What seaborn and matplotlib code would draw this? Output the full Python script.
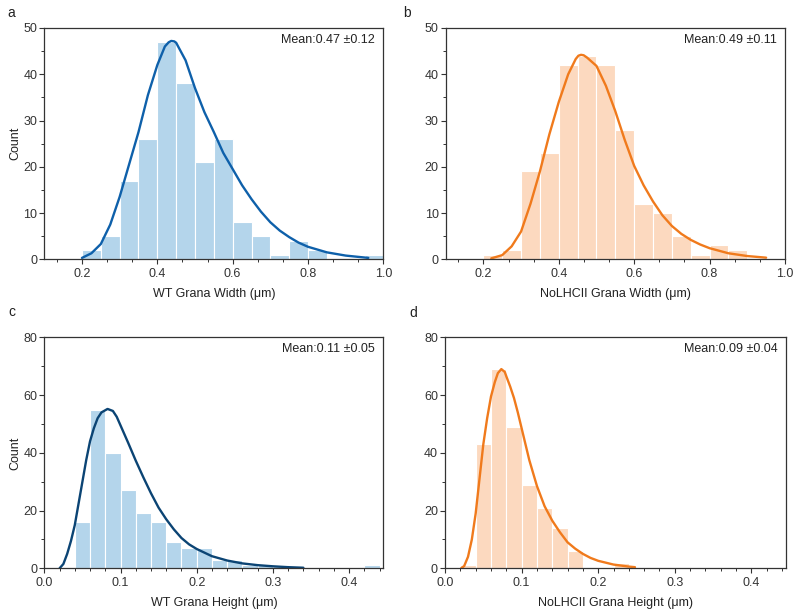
import numpy as np
import matplotlib
matplotlib.use("Agg")
import matplotlib.pyplot as plt
from matplotlib.ticker import MultipleLocator, FormatStrFormatter
import seaborn as sns

# ── Histogram counts ────────────────────────────────────────────────
a_edges  = [0.20, 0.25, 0.30, 0.35, 0.40, 0.45, 0.50, 0.55, 0.60, 0.65, 0.70, 0.75, 0.80, 0.85, 0.90, 0.95, 1.00]
a_counts = [2, 5, 17, 26, 47, 38, 21, 26, 8, 5, 1, 4, 2, 0, 0, 1]

b_edges  = [0.20, 0.25, 0.30, 0.35, 0.40, 0.45, 0.50, 0.55, 0.60, 0.65, 0.70, 0.75, 0.80, 0.85, 0.90]
b_counts = [1, 2, 19, 23, 42, 44, 42, 28, 12, 10, 5, 1, 3, 2]

c_edges  = [0.04, 0.06, 0.08, 0.10, 0.12, 0.14, 0.16, 0.18, 0.20, 0.22, 0.24,
            0.26, 0.28, 0.30, 0.32, 0.34, 0.36, 0.38, 0.40, 0.42, 0.44]
c_counts = [16, 55, 40, 27, 19, 16, 9, 7, 7, 3, 3, 1, 1, 1, 0, 0, 0, 0, 0, 1]

d_edges  = [0.02, 0.04, 0.06, 0.08, 0.10, 0.12, 0.14, 0.16, 0.18, 0.20, 0.22, 0.24]
d_counts = [1, 43, 69, 49, 29, 21, 14, 6, 0, 0, 2]

# ── Fitted curves ───────────────────────────────────────────────────
a_fit_x = [0.20, 0.225, 0.25, 0.275, 0.30, 0.325, 0.35, 0.375, 0.40, 0.42, 0.43, 0.437, 0.445,
           0.45, 0.475, 0.50, 0.525, 0.55, 0.575, 0.60, 0.625, 0.65, 0.675, 0.70, 0.725,
           0.75, 0.775, 0.80, 0.85, 0.90, 0.96]
a_fit_y = [0.3, 1.3, 3.3, 7.5, 13.5, 20.5, 27.5, 35.5, 42.0, 46.0, 46.9, 47.2, 47.1,
           46.8, 43.0, 37.0, 31.8, 27.5, 23.0, 19.5, 16.0, 13.0, 10.3, 8.0, 6.2,
           4.8, 3.6, 2.7, 1.5, 0.8, 0.3]

b_fit_x = [0.221, 0.25, 0.275, 0.30, 0.325, 0.35, 0.375, 0.40, 0.425, 0.445, 0.452, 0.459, 0.466,
           0.475, 0.50, 0.525, 0.55, 0.575, 0.60, 0.625, 0.65, 0.675, 0.70, 0.725, 0.75,
           0.775, 0.80, 0.85, 0.90, 0.95]
b_fit_y = [0.2, 0.9, 2.8, 6.0, 12.0, 19.0, 27.0, 34.0, 40.0, 43.3, 44.0, 44.2, 44.1,
           43.6, 41.8, 37.5, 32.0, 25.8, 20.2, 16.0, 12.5, 9.5, 7.2, 5.5, 4.2,
           3.2, 2.4, 1.3, 0.7, 0.35]

c_fit_x = [0.020, 0.025, 0.03, 0.035, 0.04, 0.045, 0.05, 0.055, 0.06, 0.065, 0.07, 0.075, 0.083,
           0.09, 0.095, 0.10, 0.11, 0.12, 0.13, 0.14, 0.15, 0.16, 0.17, 0.18, 0.19, 0.20,
           0.22, 0.24, 0.26, 0.28, 0.30, 0.32, 0.34]
c_fit_y = [0.0, 1.5, 5.0, 9.5, 15.0, 22.5, 30.0, 37.5, 44.0, 48.5, 52.0, 54.0, 55.2,
           54.5, 52.5, 49.5, 43.5, 37.3, 31.5, 26.0, 21.0, 17.0, 13.5, 10.5, 8.3, 6.7,
           4.2, 2.7, 1.7, 1.1, 0.7, 0.4, 0.2]

d_fit_x = [0.021, 0.025, 0.03, 0.035, 0.04, 0.045, 0.05, 0.055, 0.06, 0.065, 0.069, 0.0735,
           0.078, 0.08, 0.085, 0.09, 0.095, 0.10, 0.11, 0.12, 0.13, 0.14, 0.15, 0.16, 0.17,
           0.18, 0.19, 0.20, 0.22, 0.24, 0.248]
d_fit_y = [0.0, 0.8, 4.0, 10.0, 19.0, 31.0, 43.0, 52.0, 59.5, 64.5, 67.6, 69.0,
           68.0, 66.5, 63.0, 59.0, 54.0, 48.5, 37.5, 28.5, 21.5, 16.5, 12.5, 9.0, 6.8,
           5.0, 3.6, 2.6, 1.3, 0.6, 0.4]

means = ["Mean:0.47 ±0.12", "Mean:0.49 ±0.11", "Mean:0.11 ±0.05", "Mean:0.09 ±0.04"]
xlabels = ["WT Grana Width (μm)", "NoLHCII Grana Width (μm)",
           "WT Grana Height (μm)", "NoLHCII Grana Height (μm)"]
letters = ["a", "b", "c", "d"]

# ── Style ───────────────────────────────────────────────────────────
sns.set_theme(style="ticks")
plt.rcParams["font.family"] = ["Liberation Sans", "DejaVu Sans"]
plt.rcParams["text.color"] = "#222222"
plt.rcParams["axes.labelcolor"] = "#222222"
plt.rcParams["xtick.color"] = "#333333"
plt.rcParams["ytick.color"] = "#333333"

BLUE_BAR = "#B4D5EB"
ORANGE_BAR = "#FCD9BF"
BLUE_LINE = "#0E60AA"
NAVY_LINE = "#0B4474"
ORANGE_LINE = "#F07A1C"

panels = [
    dict(edges=a_edges, counts=a_counts, fx=a_fit_x, fy=a_fit_y, bar=BLUE_BAR, line=BLUE_LINE,
         pos=[0.0554, 0.5784, 0.4238, 0.3761], xlim=(0.1, 1.0), ylim=(0, 50),
         xmaj=0.2, xmin=0.2 / 3, ymaj=10, ymin=5, ylabel="Count", letter_xy=(0.009, 0.979)),
    dict(edges=b_edges, counts=b_counts, fx=b_fit_x, fy=b_fit_y, bar=ORANGE_BAR, line=ORANGE_LINE,
         pos=[0.5571, 0.5784, 0.4241, 0.3761], xlim=(0.1, 1.0), ylim=(0, 50),
         xmaj=0.2, xmin=0.2 / 3, ymaj=10, ymin=5, ylabel="", letter_xy=(0.5035, 0.979)),
    dict(edges=c_edges, counts=c_counts, fx=c_fit_x, fy=c_fit_y, bar=BLUE_BAR, line=NAVY_LINE,
         pos=[0.0554, 0.0759, 0.4238, 0.3756], xlim=(0.0, 0.445), ylim=(0, 80),
         xmaj=0.1, xmin=0.02, ymaj=20, ymin=10, ylabel="Count", letter_xy=(0.011, 0.493)),
    dict(edges=d_edges, counts=d_counts, fx=d_fit_x, fy=d_fit_y, bar=ORANGE_BAR, line=ORANGE_LINE,
         pos=[0.5563, 0.0759, 0.4260, 0.3756], xlim=(0.0, 0.445), ylim=(0, 80),
         xmaj=0.1, xmin=0.02, ymaj=20, ymin=10, ylabel="", letter_xy=(0.5115, 0.491)),
]

fig = plt.figure(figsize=(8, 6.15), dpi=100)

for i, p in enumerate(panels):
    ax = fig.add_axes(p["pos"])
    edges = p["edges"]
    centers = [(lo + hi) / 2 for lo, hi in zip(edges[:-1], edges[1:])]
    sns.histplot(x=centers, weights=p["counts"], bins=edges, color=p["bar"], alpha=1,
                 edgecolor="white", linewidth=0.8, ax=ax)
    sns.lineplot(x=p["fx"], y=p["fy"], color=p["line"], linewidth=1.7, ax=ax)

    ax.set_xlim(*p["xlim"])
    ax.set_ylim(*p["ylim"])
    ax.xaxis.set_major_locator(MultipleLocator(p["xmaj"]))
    ax.xaxis.set_minor_locator(MultipleLocator(p["xmin"]))
    ax.yaxis.set_major_locator(MultipleLocator(p["ymaj"]))
    ax.yaxis.set_minor_locator(MultipleLocator(p["ymin"]))
    ax.tick_params(which="major", direction="out", length=3.6, width=0.8, labelsize=9, pad=2.5)
    ax.tick_params(axis="y", which="major", pad=1.5)
    ax.tick_params(which="minor", direction="out", length=2.2, width=0.7)
    ax.xaxis.set_major_formatter(FormatStrFormatter("%.1f"))
    ax.yaxis.set_major_formatter(FormatStrFormatter("%d"))

    for side in ["top", "right", "bottom", "left"]:
        ax.spines[side].set_visible(True)
        ax.spines[side].set_color("#333333")
        ax.spines[side].set_linewidth(0.9)

    ax.set_xlabel(xlabels[i], fontsize=9, labelpad=6)
    ax.set_ylabel(p["ylabel"], fontsize=9, labelpad=1)
    ax.text(0.975, 0.948, means[i], transform=ax.transAxes, ha="right", va="center", fontsize=9)

    fig.text(p["letter_xy"][0], p["letter_xy"][1], letters[i], fontsize=10, va="center", ha="left")

plt.savefig("out.png", dpi=100)
plt.close()
